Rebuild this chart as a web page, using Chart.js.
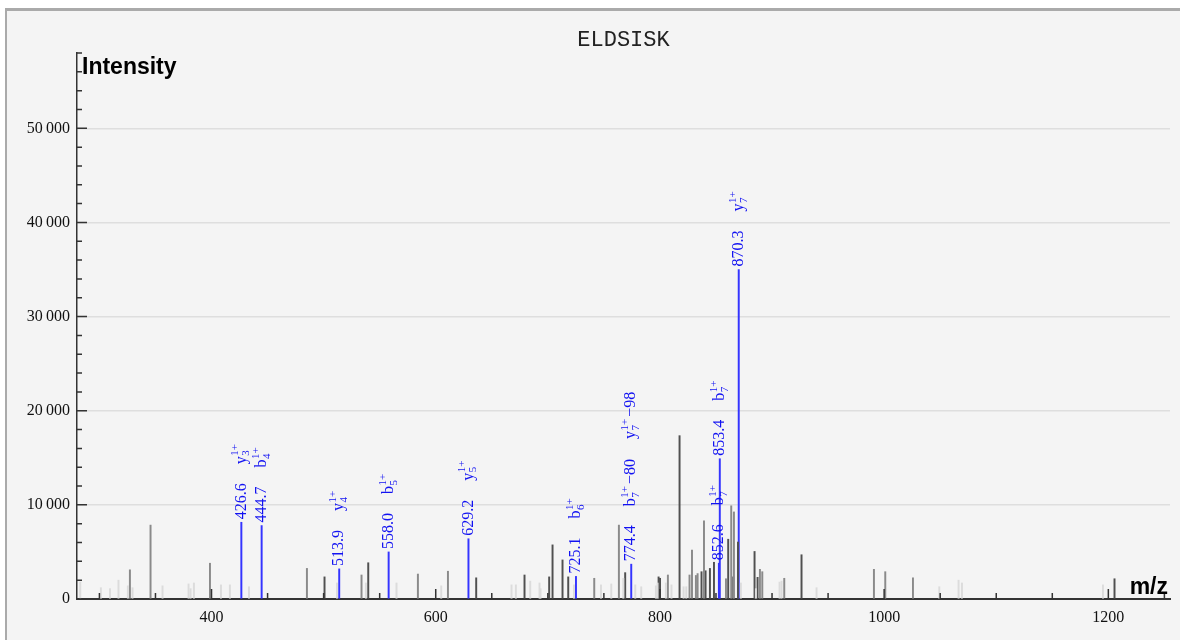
<!DOCTYPE html>
<html>
<head>
<meta charset="utf-8">
<title>ELDSISK</title>
<script src="https://cdn.jsdelivr.net/npm/chart.js@4.4.1/dist/chart.umd.min.js"></script>
<style>
  html, body { margin: 0; padding: 0; background: #fff; }
  #wrap { width: 1180px; height: 640px; position: relative; }
</style>
</head>
<body>
<div id="wrap"><canvas id="spectrum"></canvas></div>
<script>
// peptide and axis ranges
const peptide = 'ELDSISK';
const mzMin = 280, mzMax = 1255;
const intMax = 58000;
const xTickLabels = [400, 600, 800, 1000, 1200];
const yTickLabels = [0, 10000, 20000, 30000, 40000, 50000];

// unannotated peaks, faint ones
const lightMz = [282.9, 301.3, 309.4, 317.0, 325.4, 329.5, 356.3, 379.5, 381.3, 384.3,
  408.4, 416.4, 433.4, 511.9, 537.7, 565.0, 604.9, 667.6, 671.5, 684.3,
  692.6, 693.5, 723.3, 747.4, 756.6, 767.3, 778.0, 783.3, 796.4, 797.9,
  805.3, 810.3, 821.1, 823.5, 872.2, 885.6, 906.7, 908.5, 939.7, 1049.2,
  1066.4, 1069.4, 1195.2];
const lightInt = [1800, 1200, 1100, 2000, 1400, 1200, 1400, 1600, 1100, 1700,
  1500, 1500, 1300, 1700, 1700, 1700, 1400, 1500, 1500, 1900,
  1700, 1100, 1500, 1500, 1600, 2200, 1500, 1300, 1400, 1700,
  1700, 1500, 1300, 1300, 1700, 1100, 1800, 1900, 1200, 1300,
  2000, 1700, 1500];

// unannotated peaks, mid gray
const grayMz = [327.2, 345.6, 398.6, 485.1, 533.8, 584.1, 610.9, 741.4, 763.4, 807.1,
  826.4, 828.6, 832.1, 833.6, 839.3, 858.9, 863.6, 866.0, 889.2, 891.3,
  910.9, 990.9, 1001.0, 1025.7];
const grayInt = [3100, 7850, 3800, 3250, 2550, 2650, 2950, 2200, 7850, 2550,
  2550, 5200, 2500, 2700, 8300, 2150, 9900, 9250, 3150, 2900,
  2200, 3150, 2900, 2250];

// unannotated peaks, dark
const darkMz = [500.8, 539.8, 636.1, 679.2, 701.2, 704.2, 713.1, 718.2, 769.0, 798.8,
  800.1, 817.5, 837.1, 840.7, 844.6, 848.2, 860.9, 865.4, 869.6, 884.4,
  887.1, 926.3, 1205.5];
const darkInt = [2350, 3850, 2250, 2550, 2350, 5750, 4150, 2350, 2800, 2350,
  2200, 17350, 2900, 3000, 3250, 3900, 6350, 2350, 6050, 5050,
  2300, 4700, 2150];

// annotated fragment peaks
const annMz = [426.6, 444.7, 513.9, 558.0, 629.2, 725.1, 774.4, 852.6, 853.4, 870.3];
const annInt = [8150, 7800, 3200, 5000, 6400, 2400, 3700, 3800, 14900, 35000];
const annIons = [['y3'], ['b4'], ['y4'], ['b5'], ['y5'], ['b6'], ['b7-80', 'y7-98'], ['b7'], ['b7'], ['y7']];

function toPoints(xs, ys) {
    return xs.map((x, i) => ({ x: x, y: ys[i] }));
}

function fmtThousands(v) {
    return String(v).replace(/\B(?=(\d{3})+(?!\d))/g, '\u2009');
}

const serif = '"Liberation Serif", "Times New Roman", serif';
const sans = '"Liberation Sans", Arial, sans-serif';

// grey frame + panel background
const framePlugin = {
    id: 'frame',
    beforeDraw(chart) {
        const c = chart.ctx;
        c.save();
        c.fillStyle = '#ffffff';
        c.fillRect(0, 0, chart.width, chart.height);
        c.fillStyle = '#aaaaaa';
        c.fillRect(5, 8, chart.width - 5, chart.height - 8);
        c.fillStyle = '#f4f4f4';
        c.fillRect(7, 11, chart.width - 7, chart.height - 11);
        c.restore();
    }
};

// inward tick marks, peak labels, titles
const decorPlugin = {
    id: 'decor',
    afterDatasetsDraw(chart) {
        const c = chart.ctx;
        const a = chart.chartArea;
        const x = chart.scales.x, y = chart.scales.y;
        c.save();

        c.strokeStyle = '#333';
        c.lineWidth = 1.5;
        c.beginPath();
        for (let v = Math.ceil(mzMin / 50) * 50; v <= mzMax; v += 50) {
            const px = x.getPixelForValue(v);
            const len = xTickLabels.includes(v) ? 10 : 6;
            c.moveTo(px, a.bottom);
            c.lineTo(px, a.bottom - len);
        }
        for (let v = 0; v <= intMax; v += 2000) {
            const py = y.getPixelForValue(v);
            const len = yTickLabels.includes(v) ? 10 : 5;
            c.moveTo(a.left, py);
            c.lineTo(a.left + len, py);
        }
        c.stroke();

        // rotated blue labels above annotated peaks
        const big = '16px ' + serif, small = '11px ' + serif;
        c.fillStyle = '#1212f2';
        c.textBaseline = 'middle';
        c.textAlign = 'left';
        annMz.forEach((mz, i) => {
            const px = x.getPixelForValue(mz);
            const py = y.getPixelForValue(annInt[i]);
            c.save();
            c.translate(px, py - 3);
            c.rotate(-Math.PI / 2);
            c.font = big;
            const num = mz.toFixed(1);
            c.fillText(num, 0, 0);
            let pos = c.measureText(num).width + 19;
            annIons[i].forEach(ion => {
                const m = ion.match(/^([a-z])(\d+)(-\d+)?$/);
                c.font = big;
                c.fillText(m[1], pos, 0);
                pos += c.measureText(m[1]).width + 0.5;
                c.font = small;
                c.fillText('1+', pos, -6);
                c.fillText(m[2], pos, 5);
                pos += Math.max(c.measureText('1+').width, c.measureText(m[2]).width);
                if (m[3]) {
                    c.font = big;
                    const t = '\u2212' + m[3].slice(1);
                    pos += 2;
                    c.fillText(t, pos, 0);
                    pos += c.measureText(t).width;
                }
                pos += 20;
            });
            c.restore();
        });

        // title and axis names
        c.fillStyle = '#222';
        c.textBaseline = 'alphabetic';
        c.textAlign = 'center';
        c.font = '22px "Liberation Mono", "Courier New", monospace';
        c.fillText(peptide, (a.left + a.right) / 2, 46);

        c.fillStyle = '#000';
        c.font = 'bold 23px ' + sans;
        c.textAlign = 'left';
        c.fillText('Intensity', a.left + 5, 74);
        c.textAlign = 'right';
        c.fillText('m/z', a.right - 2, a.bottom - 5);

        c.restore();
    }
};

const barBase = { type: 'bar', stack: 'all', barThickness: 1.3, borderWidth: 0 };

const ctx = document.getElementById('spectrum').getContext('2d');
const spectrumChart = new Chart(ctx, {
    type: 'bar',
    data: {
        datasets: [
            Object.assign({}, barBase, { label: 'faint', backgroundColor: '#dcdcdc', data: toPoints(lightMz, lightInt) }),
            Object.assign({}, barBase, { label: 'gray', backgroundColor: '#8a8a8a', data: toPoints(grayMz, grayInt) }),
            Object.assign({}, barBase, { label: 'dark', backgroundColor: '#505050', data: toPoints(darkMz, darkInt) }),
            Object.assign({}, barBase, { label: 'annotated', backgroundColor: '#3434ff', data: toPoints(annMz, annInt) })
        ]
    },
    options: {
        responsive: true,
        maintainAspectRatio: false,
        animation: false,
        layout: { padding: { left: 0, top: 53, right: 10, bottom: 0 } },
        plugins: {
            legend: { display: false },
            tooltip: { enabled: false },
            title: { display: false }
        },
        scales: {
            x: {
                type: 'linear',
                min: mzMin,
                max: mzMax,
                offset: false,
                grid: { display: false, drawTicks: false },
                border: { display: true, color: '#333', width: 2 },
                afterBuildTicks: scale => { scale.ticks = xTickLabels.map(v => ({ value: v })); },
                ticks: {
                    maxRotation: 0,
                    autoSkip: false,
                    padding: 9,
                    color: '#111',
                    font: { family: serif, size: 16 },
                    callback: v => String(v)
                },
                afterFit: scale => { scale.height = 41; }
            },
            y: {
                min: 0,
                max: intMax,
                stacked: false,
                grid: {
                    drawTicks: false,
                    lineWidth: 1.5,
                    color: c => (c.tick && c.tick.value === 0) ? 'rgba(0,0,0,0)' : '#dedede'
                },
                border: { display: true, color: '#333', width: 1.5 },
                afterBuildTicks: scale => { scale.ticks = yTickLabels.map(v => ({ value: v })); },
                ticks: {
                    autoSkip: false,
                    padding: 7,
                    color: '#111',
                    font: { family: serif, size: 16 },
                    callback: v => fmtThousands(v)
                },
                afterFit: scale => { scale.width = 77; }
            }
        }
    },
    plugins: [framePlugin, decorPlugin]
});
</script>
</body>
</html>
